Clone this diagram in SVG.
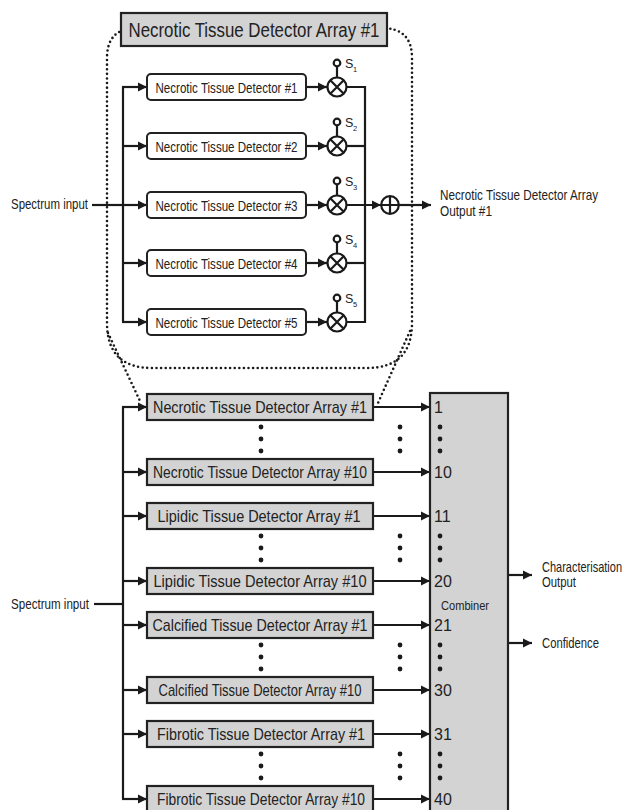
<svg xmlns="http://www.w3.org/2000/svg" width="627" height="810" viewBox="0 0 627 810">
<style>
text{font-family:"Liberation Sans Narrow","Liberation Sans",Arial,sans-serif;fill:#222}
.ln{stroke:#1a1a1a;stroke-width:2.2;fill:none}
.arr{stroke:#1a1a1a;stroke-width:2.2;fill:none;marker-end:url(#ah)}
.dot{stroke:#1a1a1a;stroke-width:2.6;fill:none;stroke-dasharray:0 4.6;stroke-linecap:round}
.gbox{fill:#d3d3d3;stroke:#222;stroke-width:2.2}
.wbox{fill:#fff;stroke:#222;stroke-width:2}
.lt{font-size:17px;text-anchor:middle}
.it{font-size:15px;text-anchor:middle}
.lab{font-size:14px}
.num{font-size:16px}
.circ{fill:#fff;stroke:#1a1a1a;stroke-width:2.2}
.dd{fill:#1a1a1a}
</style>
<defs>
<marker id="ah" viewBox="0 0 10 10" refX="10" refY="5" markerWidth="4.2" markerHeight="4.2" orient="auto" markerUnits="strokeWidth">
<path d="M0,0 L10,5 L0,10 Z" fill="#1a1a1a"/>
</marker>
</defs>

<!-- dotted outline of expanded array -->
<g id="outline">
<path class="dot" d="M137,28 L382,28 Q412,28 412,58 L412,323 Q412,368 367,368 L152,368 Q107,368 107,323 L107,58 Q107,28 137,28 Z"/>
<path class="dot" d="M108,333 L140,401"/>
<path class="dot" d="M410,331 L378,403"/>
</g>

<g id="title">
<rect class="gbox" x="121" y="13" width="266" height="33"/>
<text x="254" y="36.5" font-size="19.5" text-anchor="middle" textLength="251" lengthAdjust="spacingAndGlyphs">Necrotic Tissue Detector Array #1</text>
</g>

<g id="connectors">
<!-- upper -->
<text class="lab" x="11" y="209" textLength="77" lengthAdjust="spacingAndGlyphs">Spectrum input</text>
<path class="ln" d="M92,205 L123,205"/>
<path class="ln" d="M123,87 L123,322"/>
<path class="arr" d="M122,87 L147,87"/>
<path class="arr" d="M122,146 L147,146"/>
<path class="arr" d="M122,205 L147,205"/>
<path class="arr" d="M122,263 L147,263"/>
<path class="arr" d="M122,322 L147,322"/>
<path class="arr" d="M306,87 L327,87"/>
<path class="arr" d="M306,146 L327,146"/>
<path class="arr" d="M306,205 L327,205"/>
<path class="arr" d="M306,263 L327,263"/>
<path class="arr" d="M306,322 L327,322"/>
<path class="ln" d="M346,87 L365,87 L365,322 L346,322"/>
<path class="ln" d="M346,146 L365,146"/>
<path class="ln" d="M346,263 L365,263"/>
<path class="arr" d="M346,205 L381,205"/>
<path class="arr" d="M399,205 L431,205"/>
<g transform="translate(440,0) scale(0.78,1)">
<text class="lab" x="0" y="200" textLength="202.6" lengthAdjust="spacingAndGlyphs">Necrotic Tissue Detector Array</text>
<text class="lab" x="0" y="216" textLength="66.7" lengthAdjust="spacingAndGlyphs">Output #1</text>
</g>
<!-- lower -->
<text class="lab" x="11" y="609" textLength="78" lengthAdjust="spacingAndGlyphs">Spectrum input</text>
<path class="ln" d="M94,604 L123,604"/>
<path class="ln" d="M123,407 L123,799"/>
<path class="arr" d="M122,407 L147,407"/>
<path class="arr" d="M122,472 L147,472"/>
<path class="arr" d="M122,516 L147,516"/>
<path class="arr" d="M122,581 L147,581"/>
<path class="arr" d="M122,625 L147,625"/>
<path class="arr" d="M122,690 L147,690"/>
<path class="arr" d="M122,734 L147,734"/>
<path class="arr" d="M122,799 L147,799"/>
<path class="arr" d="M373,407 L430,407"/>
<path class="arr" d="M373,472 L430,472"/>
<path class="arr" d="M373,516 L430,516"/>
<path class="arr" d="M373,581 L430,581"/>
<path class="arr" d="M373,625 L430,625"/>
<path class="arr" d="M373,690 L430,690"/>
<path class="arr" d="M373,734 L430,734"/>
<path class="arr" d="M373,799 L430,799"/>
<path class="arr" d="M508,575 L532,575"/>
<path class="arr" d="M508,643 L532,643"/>
<g transform="translate(542,0) scale(0.78,1)">
<text class="lab" x="0" y="572" textLength="102.6" lengthAdjust="spacingAndGlyphs">Characterisation</text>
<text class="lab" x="0" y="587" textLength="43.6" lengthAdjust="spacingAndGlyphs">Output</text>
<text class="lab" x="0" y="648" textLength="73.1" lengthAdjust="spacingAndGlyphs">Confidence</text>
</g>
</g>

<!-- inner detectors -->
<g id="ntd1"><rect class="wbox" x="147" y="74" width="159" height="26" rx="4"/><text class="it" x="226.5" y="92.5" textLength="142" lengthAdjust="spacingAndGlyphs">Necrotic Tissue Detector #1</text></g>
<g id="ntd2"><rect class="wbox" x="147" y="133" width="159" height="26" rx="4"/><text class="it" x="226.5" y="151.5" textLength="142" lengthAdjust="spacingAndGlyphs">Necrotic Tissue Detector #2</text></g>
<g id="ntd3"><rect class="wbox" x="147" y="192" width="159" height="26" rx="4"/><text class="it" x="226.5" y="210.5" textLength="142" lengthAdjust="spacingAndGlyphs">Necrotic Tissue Detector #3</text></g>
<g id="ntd4"><rect class="wbox" x="147" y="250" width="159" height="26" rx="4"/><text class="it" x="226.5" y="268.5" textLength="142" lengthAdjust="spacingAndGlyphs">Necrotic Tissue Detector #4</text></g>
<g id="ntd5"><rect class="wbox" x="147" y="309" width="159" height="26" rx="4"/><text class="it" x="226.5" y="327.5" textLength="142" lengthAdjust="spacingAndGlyphs">Necrotic Tissue Detector #5</text></g>

<!-- multipliers with switches -->
<g id="mul1"><circle class="circ" cx="337" cy="87" r="9.5"/><path class="ln" d="M330.3,80.3 L343.7,93.7 M343.7,80.3 L330.3,93.7 M337,66.5 L337,77.5"/><circle class="circ" cx="337" cy="63" r="3.3" stroke-width="1.8"/><text x="345" y="68" font-size="12.5">S</text><text x="353" y="72" font-size="7.5">1</text></g>
<g id="mul2"><circle class="circ" cx="337" cy="146" r="9.5"/><path class="ln" d="M330.3,139.3 L343.7,152.7 M343.7,139.3 L330.3,152.7 M337,125.5 L337,136.5"/><circle class="circ" cx="337" cy="122" r="3.3" stroke-width="1.8"/><text x="345" y="127" font-size="12.5">S</text><text x="353" y="131" font-size="7.5">2</text></g>
<g id="mul3"><circle class="circ" cx="337" cy="205" r="9.5"/><path class="ln" d="M330.3,198.3 L343.7,211.7 M343.7,198.3 L330.3,211.7 M337,184.5 L337,195.5"/><circle class="circ" cx="337" cy="181" r="3.3" stroke-width="1.8"/><text x="345" y="186" font-size="12.5">S</text><text x="353" y="190" font-size="7.5">3</text></g>
<g id="mul4"><circle class="circ" cx="337" cy="263" r="9.5"/><path class="ln" d="M330.3,256.3 L343.7,269.7 M343.7,256.3 L330.3,269.7 M337,242.5 L337,253.5"/><circle class="circ" cx="337" cy="239" r="3.3" stroke-width="1.8"/><text x="345" y="244" font-size="12.5">S</text><text x="353" y="248" font-size="7.5">4</text></g>
<g id="mul5"><circle class="circ" cx="337" cy="322" r="9.5"/><path class="ln" d="M330.3,315.3 L343.7,328.7 M343.7,315.3 L330.3,328.7 M337,301.5 L337,312.5"/><circle class="circ" cx="337" cy="298" r="3.3" stroke-width="1.8"/><text x="345" y="303" font-size="12.5">S</text><text x="353" y="307" font-size="7.5">5</text></g>

<g id="adder"><circle class="circ" cx="390" cy="205" r="8.8"/><path class="ln" d="M381.2,205 L398.8,205 M390,196.2 L390,213.8"/></g>

<!-- lower detector arrays -->
<g id="ntda1"><rect class="gbox" x="147" y="394" width="226" height="26"/><text class="lt" x="260" y="413" textLength="214" lengthAdjust="spacingAndGlyphs">Necrotic Tissue Detector Array #1</text></g>
<g id="ntda10"><rect class="gbox" x="147" y="459" width="226" height="26"/><text class="lt" x="260" y="478" textLength="214" lengthAdjust="spacingAndGlyphs">Necrotic Tissue Detector Array #10</text></g>
<g id="ltda1"><rect class="gbox" x="147" y="503" width="226" height="26"/><text class="lt" x="259" y="522" textLength="203" lengthAdjust="spacingAndGlyphs">Lipidic Tissue Detector Array #1</text></g>
<g id="ltda10"><rect class="gbox" x="147" y="568" width="226" height="26"/><text class="lt" x="260" y="587" textLength="213" lengthAdjust="spacingAndGlyphs">Lipidic Tissue Detector Array #10</text></g>
<g id="ctda1"><rect class="gbox" x="147" y="612" width="226" height="26"/><text class="lt" x="260" y="631" textLength="215" lengthAdjust="spacingAndGlyphs">Calcified Tissue Detector Array #1</text></g>
<g id="ctda10"><rect class="gbox" x="147" y="677" width="226" height="26"/><text class="lt" x="260" y="696" textLength="203" lengthAdjust="spacingAndGlyphs">Calcified Tissue Detector Array #10</text></g>
<g id="ftda1"><rect class="gbox" x="147" y="721" width="226" height="26"/><text class="lt" x="261" y="740" textLength="208" lengthAdjust="spacingAndGlyphs">Fibrotic Tissue Detector Array #1</text></g>
<g id="ftda10"><rect class="gbox" x="147" y="786" width="226" height="28"/><text class="lt" x="261" y="805" textLength="208" lengthAdjust="spacingAndGlyphs">Fibrotic Tissue Detector Array #10</text></g>

<g id="combiner">
<rect class="gbox" x="430" y="393" width="78" height="422"/>
<text x="465" y="610" font-size="13" text-anchor="middle" textLength="48" lengthAdjust="spacingAndGlyphs">Combiner</text>
<text class="num" x="434" y="413">1</text>
<text class="num" x="434" y="478">10</text>
<text class="num" x="434" y="522">11</text>
<text class="num" x="434" y="587">20</text>
<text class="num" x="434" y="631">21</text>
<text class="num" x="434" y="696">30</text>
<text class="num" x="434" y="740">31</text>
<text class="num" x="434" y="805">40</text>
</g>

<g id="ellipses">
<circle class="dd" cx="261" cy="427" r="2.4"/><circle class="dd" cx="261" cy="439" r="2.4"/><circle class="dd" cx="261" cy="451" r="2.4"/>
<circle class="dd" cx="400" cy="427" r="2.4"/><circle class="dd" cx="400" cy="439" r="2.4"/><circle class="dd" cx="400" cy="451" r="2.4"/>
<circle class="dd" cx="440" cy="427" r="2.4"/><circle class="dd" cx="440" cy="439" r="2.4"/><circle class="dd" cx="440" cy="451" r="2.4"/>
<circle class="dd" cx="261" cy="536" r="2.4"/><circle class="dd" cx="261" cy="548" r="2.4"/><circle class="dd" cx="261" cy="560" r="2.4"/>
<circle class="dd" cx="400" cy="536" r="2.4"/><circle class="dd" cx="400" cy="548" r="2.4"/><circle class="dd" cx="400" cy="560" r="2.4"/>
<circle class="dd" cx="440" cy="536" r="2.4"/><circle class="dd" cx="440" cy="548" r="2.4"/><circle class="dd" cx="440" cy="560" r="2.4"/>
<circle class="dd" cx="261" cy="645" r="2.4"/><circle class="dd" cx="261" cy="657" r="2.4"/><circle class="dd" cx="261" cy="669" r="2.4"/>
<circle class="dd" cx="400" cy="645" r="2.4"/><circle class="dd" cx="400" cy="657" r="2.4"/><circle class="dd" cx="400" cy="669" r="2.4"/>
<circle class="dd" cx="440" cy="645" r="2.4"/><circle class="dd" cx="440" cy="657" r="2.4"/><circle class="dd" cx="440" cy="669" r="2.4"/>
<circle class="dd" cx="261" cy="754" r="2.4"/><circle class="dd" cx="261" cy="766" r="2.4"/><circle class="dd" cx="261" cy="778" r="2.4"/>
<circle class="dd" cx="400" cy="754" r="2.4"/><circle class="dd" cx="400" cy="766" r="2.4"/><circle class="dd" cx="400" cy="778" r="2.4"/>
<circle class="dd" cx="440" cy="754" r="2.4"/><circle class="dd" cx="440" cy="766" r="2.4"/><circle class="dd" cx="440" cy="778" r="2.4"/>
</g>
</svg>
